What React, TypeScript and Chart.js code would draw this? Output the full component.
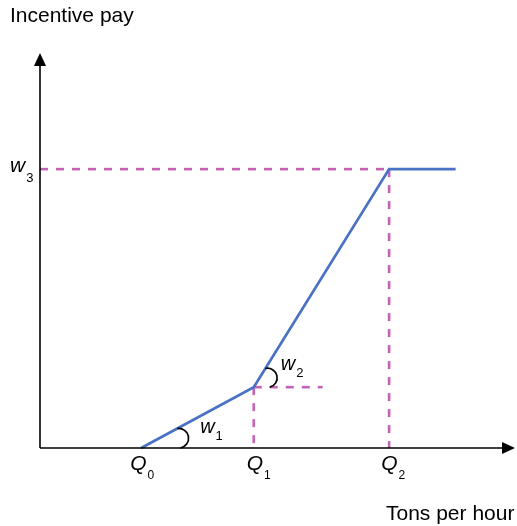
import React, { useEffect, useRef } from "react";
import { Chart, registerables } from "chart.js";

Chart.register(...registerables);

// ---- data (abstract units: x 0..100 along the output axis, y 0..100 along pay axis)
const Q0 = 21.3;
const Q1 = 45;
const Q2 = 73.5;
const X_END = 87.5;
const Q1_GUIDE_END = 59.5;
const PAY_AT_Q1 = 15.4;
const W3 = 70.6;

const payX = [Q0, Q1, Q2, X_END];
const payY = [0, PAY_AT_Q1, W3, W3];

const tickNames = ["Q", "Q", "Q"];
const tickSubs = ["0", "1", "2"];
const tickValues = [Q0, Q1, Q2];

const yAxisTitle = "Incentive pay";
const xAxisTitle = "Tons per hour";

const FONT = '"Liberation Sans", Arial, Helvetica, sans-serif';
const BLUE = "#4a72c4";
const MAGENTA = "#c462b6";

const pts = (xs: number[], ys: number[]) => xs.map((x, i) => ({ x, y: ys[i] }));

function drawSub(
  ctx: CanvasRenderingContext2D,
  main: string,
  sub: string,
  x: number,
  baseline: number,
  mainSize: number,
  subSize: number,
  drop: number,
  gap: number
) {
  ctx.font = `italic ${mainSize}px ${FONT}`;
  ctx.textAlign = "left";
  ctx.textBaseline = "alphabetic";
  ctx.fillText(main, x, baseline);
  const w = ctx.measureText(main).width;
  ctx.font = `${subSize}px ${FONT}`;
  ctx.fillText(sub, x + w + gap, baseline + drop);
}

const decorPlugin = {
  id: "decor",
  afterDatasetsDraw(chart: any) {
    const ctx: CanvasRenderingContext2D = chart.ctx;
    const xs = chart.scales.x;
    const ys = chart.scales.y;
    const area = chart.chartArea;
    const x0 = xs.getPixelForValue(0);
    const y0 = ys.getPixelForValue(0);
    ctx.save();
    // axes
    ctx.strokeStyle = "#000";
    ctx.fillStyle = "#000";
    ctx.lineWidth = 1.6;
    ctx.beginPath();
    ctx.moveTo(x0, y0);
    ctx.lineTo(x0, area.top + 10);
    ctx.moveTo(x0, y0);
    ctx.lineTo(area.right - 10, y0);
    ctx.stroke();
    // arrow heads
    ctx.beginPath();
    ctx.moveTo(x0, area.top);
    ctx.lineTo(x0 - 6, area.top + 13);
    ctx.lineTo(x0 + 6, area.top + 13);
    ctx.closePath();
    ctx.fill();
    ctx.beginPath();
    ctx.moveTo(area.right, y0);
    ctx.lineTo(area.right - 13, y0 - 6);
    ctx.lineTo(area.right - 13, y0 + 6);
    ctx.closePath();
    ctx.fill();

    // angle arcs
    const arcs = [
      { i: 0, d1: 41, d2: 39 },
      { i: 1, d1: 22, d2: 16 },
    ];
    ctx.lineWidth = 1.7;
    arcs.forEach(({ i, d1, d2 }) => {
      const vx = xs.getPixelForValue(payX[i]);
      const vy = ys.getPixelForValue(payY[i]);
      const nx = xs.getPixelForValue(payX[i + 1]);
      const ny = ys.getPixelForValue(payY[i + 1]);
      const a = Math.atan2(ny - vy, nx - vx);
      const p1x = vx + d1 * Math.cos(a);
      const p1y = vy + d1 * Math.sin(a);
      const p2x = vx + d2;
      const p2y = vy;
      const cx = (p1x + p2x) / 2;
      const cy = (p1y + p2y) / 2;
      const r = Math.hypot(p1x - p2x, p1y - p2y) / 2;
      const s = Math.atan2(p1y - cy, p1x - cx);
      const e = Math.atan2(p2y - cy, p2x - cx);
      ctx.beginPath();
      ctx.arc(cx, cy, r, s, e, false);
      ctx.stroke();
    });

    // axis titles
    ctx.fillStyle = "#000";
    ctx.font = `21px ${FONT}`;
    ctx.textAlign = "left";
    ctx.textBaseline = "alphabetic";
    ctx.fillText(yAxisTitle, 10, 22);
    ctx.fillText(xAxisTitle, 386, 520);

    // tick labels Q0 Q1 Q2
    const qdx = [-11, -7, -8];
    tickValues.forEach((v, k) => {
      const px = xs.getPixelForValue(v);
      drawSub(ctx, tickNames[k], tickSubs[k], px + qdx[k], y0 + 22, 21, 12, 9, 1);
    });

    // w labels
    const w3y = ys.getPixelForValue(W3);
    drawSub(ctx, "w", "3", 10, w3y + 3, 21, 13, 10, 1);
    const q0x = xs.getPixelForValue(Q0);
    drawSub(ctx, "w", "1", q0x + 59, y0 - 15, 20, 13, 7, 1);
    const q1x = xs.getPixelForValue(Q1);
    const q1y = ys.getPixelForValue(PAY_AT_Q1);
    drawSub(ctx, "w", "2", q1x + 27, q1y - 17, 20, 13, 7, 1);
    ctx.restore();
  },
};

export default function App() {
  const ref = useRef<HTMLCanvasElement | null>(null);
  useEffect(() => {
    if (!ref.current) return;
    const dashed = {
      borderColor: MAGENTA,
      borderWidth: 2.6,
      borderDash: [8, 8],
      showLine: true,
      pointRadius: 0,
      clip: false as any,
      fill: false,
    };
    const chart = new Chart(ref.current, {
      type: "scatter",
      data: {
        datasets: [
          {
            label: "Incentive pay",
            data: pts(payX, payY),
            borderColor: BLUE,
            borderWidth: 2.7,
            showLine: true,
            pointRadius: 0,
            clip: false as any,
            fill: false,
          },
          { label: "w3 guide", data: pts([0, Q2], [W3, W3]), ...dashed },
          { label: "Q2 guide", data: pts([Q2, Q2], [W3, 0]), ...dashed },
          { label: "Q1 guide", data: pts([Q1, Q1], [PAY_AT_Q1, 0]), ...dashed },
          { label: "Q1 level", data: pts([Q1, Q1_GUIDE_END], [PAY_AT_Q1, PAY_AT_Q1]), ...dashed },
        ],
      },
      options: {
        animation: false,
        responsive: false,
        layout: { padding: { left: 40, right: 2, top: 53, bottom: 78 } },
        scales: {
          x: { type: "linear", min: 0, max: 100, display: false },
          y: { type: "linear", min: 0, max: 100, display: false },
        },
        plugins: {
          legend: { display: false },
          tooltip: { enabled: false },
        },
        events: [],
      },
      plugins: [decorPlugin],
    });
    return () => chart.destroy();
  }, []);
  return (
    <div style={{ position: "absolute", left: 0, top: 0, width: 517, height: 526, background: "#fff" }}>
      <canvas ref={ref} width={517} height={526} style={{ display: "block" }} />
    </div>
  );
}
